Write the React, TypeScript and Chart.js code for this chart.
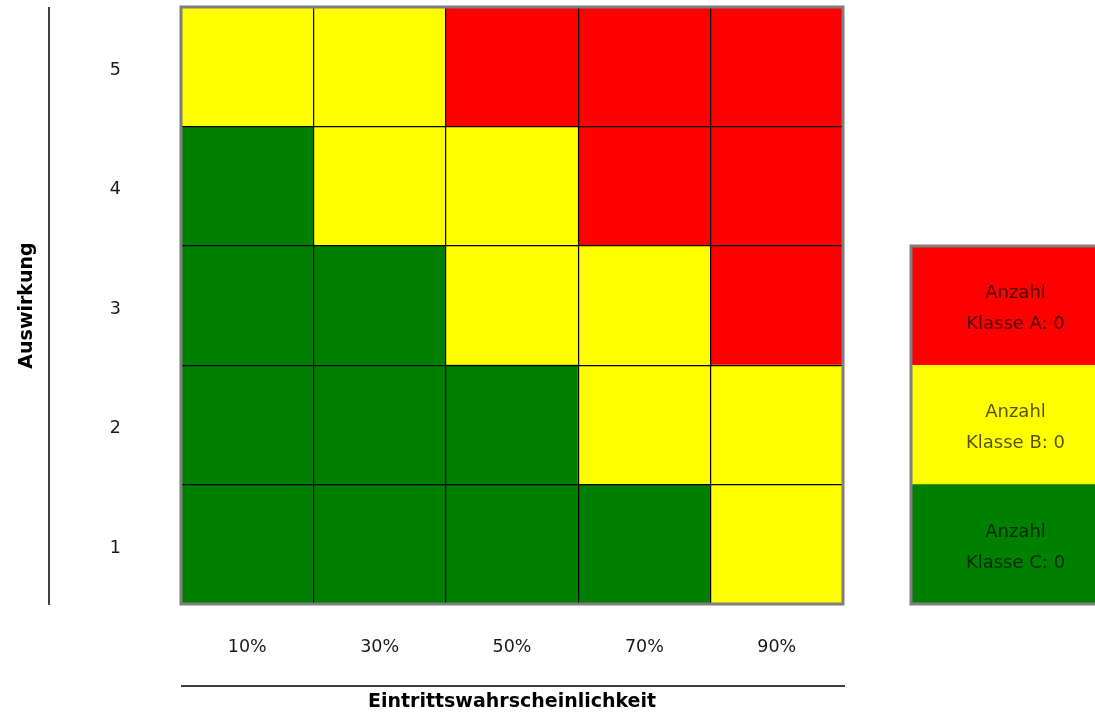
import React, { useEffect, useRef } from "react";
import { Chart, registerables } from "chart.js";

Chart.register(...registerables);

// ---- data ----
const probabilityLabels = ["10%", "30%", "50%", "70%", "90%"];
const impactLabels = ["1", "2", "3", "4", "5"];
// risk class per cell, one array per impact row (1 = bottom)
const impact1 = ["C", "C", "C", "C", "B"];
const impact2 = ["C", "C", "C", "B", "B"];
const impact3 = ["C", "C", "B", "B", "A"];
const impact4 = ["C", "B", "B", "A", "A"];
const impact5 = ["B", "B", "A", "A", "A"];
const impactRows = [impact1, impact2, impact3, impact4, impact5];
const classNames = ["C", "B", "A"];
const classCounts = [0, 0, 0];
const classColors: Record<string, string> = { A: "#ff0000", B: "#ffff00", C: "#008000" };
const xTitle = "Eintrittswahrscheinlichkeit";
const yTitle = "Auswirkung";

const FONT = "'DejaVu Sans', sans-serif";

function MainChart() {
  const ref = useRef<HTMLCanvasElement>(null);
  useEffect(() => {
    const datasets = impactRows.map((row, i) => ({
      label: impactLabels[i],
      data: row.map(() => [i, i + 1]),
      backgroundColor: row.map((c) => classColors[c]),
      borderWidth: 0,
      barPercentage: 1,
      categoryPercentage: 1,
      grouped: false,
    }));
    const decor = {
      id: "decor",
      afterDraw(chart: any) {
        const { ctx, chartArea } = chart;
        ctx.save();
        ctx.strokeStyle = "#7f7f7f";
        ctx.lineWidth = 3;
        ctx.strokeRect(chartArea.left, chartArea.top, chartArea.right - chartArea.left, chartArea.bottom - chartArea.top);
        ctx.strokeStyle = "#000";
        ctx.lineWidth = 1.5;
        ctx.beginPath();
        ctx.moveTo(49, chartArea.top);
        ctx.lineTo(49, chartArea.bottom + 1);
        ctx.moveTo(chartArea.left, 686);
        ctx.lineTo(chartArea.right + 2, 686);
        ctx.stroke();
        ctx.restore();
      },
    };
    const chart = new Chart(ref.current!, {
      type: "bar",
      data: { labels: probabilityLabels, datasets },
      options: {
        animation: false,
        responsive: false,
        maintainAspectRatio: false,
        layout: { padding: { left: 0, top: 7, right: 870 - 843, bottom: 0 } },
        plugins: { legend: { display: false }, tooltip: { enabled: false } },
        scales: {
          x: {
            type: "category",
            offset: true,
            grid: { display: true, offset: true, color: "#000", lineWidth: 1.2, drawTicks: false, z: 1 },
            border: { display: false },
            ticks: { color: "#1a1a1a", font: { family: FONT, size: 17.5 }, padding: 33, maxRotation: 0 },
            title: {
              display: true,
              text: xTitle,
              color: "#000",
              font: { family: FONT, size: 19, weight: "bold", lineHeight: 1.2 },
              padding: { top: 0, bottom: 2 },
            },
            afterFit: (s: any) => { s.height = 715 - 604; s.paddingLeft = 0; s.paddingRight = 0; },
          },
          y: {
            type: "linear",
            min: 0,
            max: 5,
            grid: { display: true, color: "#000", lineWidth: 1.2, drawTicks: false, z: 1 },
            border: { display: false },
            ticks: {
              stepSize: 1,
              color: "#1a1a1a",
              font: { family: FONT, size: 17.5 },
              padding: 60,
              labelOffset: -56,
              callback: (v: any) => (v < 5 ? impactLabels[v] : ""),
            },
            title: {
              display: true,
              text: yTitle,
              color: "#000",
              font: { family: FONT, size: 19, weight: "bold", lineHeight: 1.2 },
              padding: { top: 16, bottom: 0 },
            },
            afterFit: (s: any) => { s.width = 181; s.paddingTop = 0; s.paddingBottom = 0; },
          },
        },
      },
      plugins: [decor],
    } as any);
    return () => chart.destroy();
  }, []);
  return <canvas ref={ref} width={870} height={715} style={{ position: "absolute", left: 0, top: 0, width: 870, height: 715 }} />;
}

function LegendChart() {
  const ref = useRef<HTMLCanvasElement>(null);
  useEffect(() => {
    const datasets = classNames.map((c, i) => ({
      label: c,
      data: [[i, i + 1]],
      backgroundColor: classColors[c],
      borderWidth: 0,
      barPercentage: 1,
      categoryPercentage: 1,
      grouped: false,
    }));
    const labelsPlugin = {
      id: "legendText",
      afterDatasetsDraw(chart: any) {
        const { ctx, chartArea } = chart;
        ctx.save();
        chart.data.datasets.forEach((ds: any, i: number) => {
          const meta = chart.getDatasetMeta(i);
          const bar = meta.data[0];
          const cy = (bar.y + bar.base) / 2 + 3;
          ctx.fillStyle = "rgba(0,0,0,0.68)";
          ctx.font = `18px ${FONT}`;
          ctx.textAlign = "center";
          ctx.textBaseline = "middle";
          ctx.fillText("Anzahl", bar.x, cy - 15.5);
          ctx.fillText(`Klasse ${ds.label}: ${classCounts[i]}`, bar.x, cy + 15.5);
        });
        ctx.strokeStyle = "#7f7f7f";
        ctx.lineWidth = 3;
        ctx.strokeRect(chartArea.left, chartArea.top, chartArea.right - chartArea.left, chartArea.bottom - chartArea.top);
        ctx.restore();
      },
    };
    const chart = new Chart(ref.current!, {
      type: "bar",
      data: { labels: ["Klassen"], datasets },
      options: {
        animation: false,
        responsive: false,
        maintainAspectRatio: false,
        layout: { padding: { left: 31, top: 246, right: 0, bottom: 715 - 604 } },
        plugins: { legend: { display: false }, tooltip: { enabled: false } },
        scales: {
          x: { display: false },
          y: { display: false, min: 0, max: 3 },
        },
      },
      plugins: [labelsPlugin],
    } as any);
    return () => chart.destroy();
  }, []);
  return <canvas ref={ref} width={240} height={715} style={{ position: "absolute", left: 880, top: 0, width: 240, height: 715 }} />;
}

export default function App() {
  return (
    <div style={{ position: "absolute", left: 0, top: 0, width: 1095, height: 715, overflow: "hidden", background: "#fff" }}>
      <MainChart />
      <LegendChart />
    </div>
  );
}
